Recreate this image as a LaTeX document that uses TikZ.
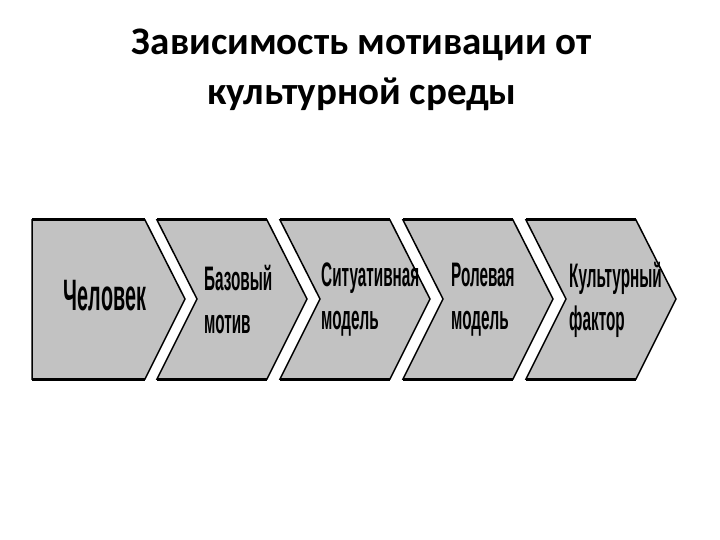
\documentclass[tikz,border=0pt]{standalone}
\usepackage{fontspec}
\setmainfont{Carlito}
\newfontfamily\boxfont{Liberation Sans}[FakeStretch=0.45]
\usepackage{tikz}
\usetikzlibrary{positioning}

\definecolor{chevgray}{RGB}{194,194,194}

\begin{document}
\begin{tikzpicture}[x=1pt,y=-1pt]
	\tikzstyle{chev}=[draw=black, fill=chevgray, line width=1.5pt, line join=miter]
	\tikzstyle{rim}=[draw=black, line width=3pt]
	\tikzstyle{lbl}=[font=\boxfont\bfseries\fontsize{34}{43}\selectfont, align=left, anchor=west, inner sep=0pt]
	\useasboundingbox (0,0) rectangle (720,540);
		% title
		\node[font=\bfseries\fontsize{39}{50}\selectfont, align=center, anchor=base] (title) at (362,105) {Зависимость мотивации от\\культурной среды};
		% first block, flat left side
		\draw[chev] (32,220) -- (145,220) -- (185,299) -- (145,379) -- (32,379) -- cycle;
		\draw[rim] (32,220) -- (145,220);
		\draw[rim] (32,379) -- (145,379);
		% notched blocks
		\foreach \x in {157,280,403,526}{
			\draw[chev] (\x,220) -- (\x+110,220) -- (\x+150,299) -- (\x+110,379) -- (\x,379) -- (\x+40,299) -- cycle;
			\draw[rim] (\x,220) -- (\x+110,220);
			\draw[rim] (\x,379) -- (\x+110,379);
		}
		\node[font=\boxfont\bfseries\fontsize{44}{48}\selectfont, inner sep=0pt] (man) at (105,296) {Человек};
		\node[lbl] (motive) at (204,300) {Базовый\\мотив};
		\node[lbl] (situation) at (321,300) {Ситуативная\\модель};
		\node[lbl] (role) at (451,300) {Ролевая\\модель};
		\node[lbl] (culture) at (569,300) {Культурный\\фактор};
\end{tikzpicture}
\end{document}
